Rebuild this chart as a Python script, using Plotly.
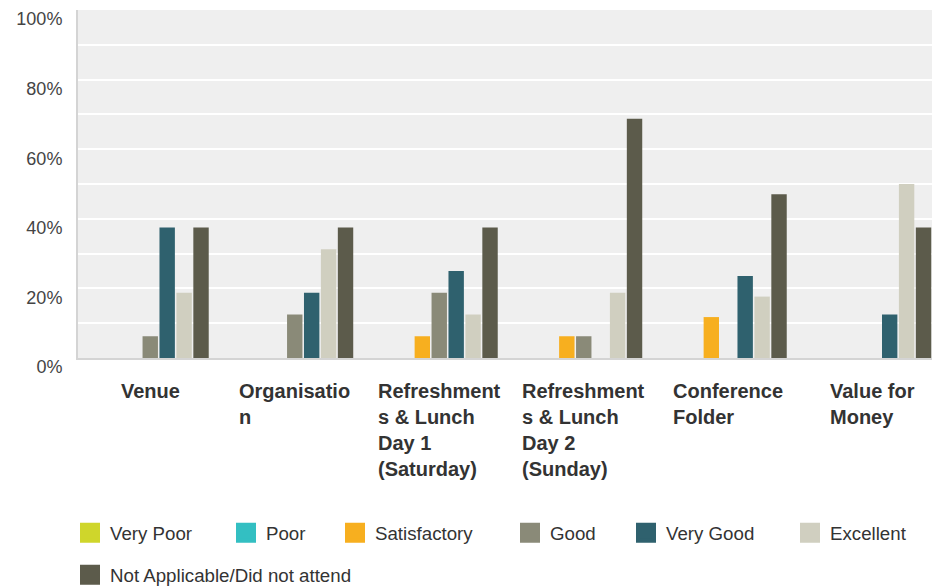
import plotly.graph_objects as go

categories = ["Venue", "Organisation", "Refreshments & Lunch Day 1 (Saturday)",
              "Refreshments & Lunch Day 2 (Sunday)", "Conference Folder", "Value for Money"]
category_labels = ["Venue", "Organisatio<br>n", "Refreshment<br>s & Lunch<br>Day 1<br>(Saturday)",
                   "Refreshment<br>s & Lunch<br>Day 2<br>(Sunday)", "Conference<br>Folder", "Value for<br>Money"]

series_names = ["Very Poor", "Poor", "Satisfactory", "Good", "Very Good", "Excellent",
                "Not Applicable/Did not attend"]
very_poor = [0, 0, 0, 0, 0, 0]
poor = [0, 0, 0, 0, 0, 0]
satisfactory = [0, 0, 6.25, 6.25, 11.76, 0]
good = [6.25, 12.5, 18.75, 6.25, 0, 0]
very_good = [37.5, 18.75, 25.0, 0, 23.53, 12.5]
excellent = [18.75, 31.25, 12.5, 18.75, 17.65, 50.0]
not_applicable = [37.5, 37.5, 37.5, 68.75, 47.06, 37.5]
series_values = [very_poor, poor, satisfactory, good, very_good, excellent, not_applicable]

colors = ["#CFD62B", "#33BFC2", "#F7AF1F", "#8A8A78", "#2F616E", "#D0CFC0", "#5C5B4B"]

y_ticks = [0, 20, 40, 60, 80, 100]
y_tick_labels = ["0%", "20%", "40%", "60%", "80%", "100%"]

FONT = "Liberation Sans, Arial, sans-serif"

fig = go.Figure()
for name, vals, col in zip(series_names, series_values, colors):
    fig.add_trace(go.Bar(x=categories, y=vals, name=name, showlegend=False,
                         marker=dict(color=col, line=dict(width=0)),
                         hoverinfo="x+y+name"))

# legend entries (one legend per entry to reproduce the spacing)
legend_x_px = [70, 226, 335, 510, 626, 790, 70]
legend_rows = [0, 0, 0, 0, 0, 0, 1]
row_y_px = [533, 575]
plot_l, plot_w = 78, 854
plot_top, plot_bottom = 10, 358
plot_h = plot_bottom - plot_top

legend_layouts = {}
for i, (name, col) in enumerate(zip(series_names, colors)):
    key = "legend" if i == 0 else f"legend{i+1}"
    fig.add_trace(go.Scatter(x=[None], y=[None], mode="markers", name=name, legend=key,
                             marker=dict(symbol="square", size=16, color=col,
                                         line=dict(width=4, color=col)),
                             hoverinfo="skip"))
    legend_layouts[key] = dict(
        x=(legend_x_px[i] - plot_l) / plot_w,
        y=(plot_bottom - row_y_px[legend_rows[i]]) / plot_h,
        xanchor="left", yanchor="middle", orientation="h",
        bgcolor="rgba(0,0,0,0)", borderwidth=0,
        font=dict(family=FONT, size=18.7, color="#333333"),
        itemclick=False, itemdoubleclick=False,
    )

for cx, lab in zip(categories, category_labels):
    fig.add_annotation(x=cx, y=0, xref="x", yref="paper", text=lab, showarrow=False,
                       xanchor="center", yanchor="top", align="left", yshift=-20,
                       font=dict(family=FONT, size=20, color="#333333", weight="bold"))

fig.update_layout(
    width=932, height=587,
    margin=dict(l=plot_l, r=0, t=plot_top, b=587 - plot_bottom, autoexpand=False),
    paper_bgcolor="white", plot_bgcolor="#EFEFEF",
    barmode="group", bargap=0.18, bargroupgap=0.09,
    font=dict(family=FONT, size=18, color="#444444"),
    **legend_layouts,
)
fig.update_xaxes(range=[-0.5, 5.41], showticklabels=False, showgrid=False, zeroline=False,
                 showline=True, linecolor="#D4D4D4", linewidth=2, ticks="", fixedrange=True,
                 automargin=False)
fig.update_yaxes(range=[0, 100], tickvals=y_ticks, ticktext=y_tick_labels,
                 showgrid=True, gridcolor="white", gridwidth=2,
                 minor=dict(dtick=10, showgrid=True, gridcolor="white", gridwidth=2),
                 zeroline=False, showline=True, linecolor="#D4D4D4", linewidth=2, ticks="",
                 ticklabelstandoff=10, ticklabelshift=9, ticklabeloverflow="allow",
                 automargin=False,
                 tickfont=dict(family=FONT, size=18, color="#444444"), fixedrange=True)

fig.write_html("out.html",
               config={"displayModeBar": False},
               post_script="document.body.style.margin='0';document.body.style.padding='0';"
                           "document.body.style.overflow='hidden';")
